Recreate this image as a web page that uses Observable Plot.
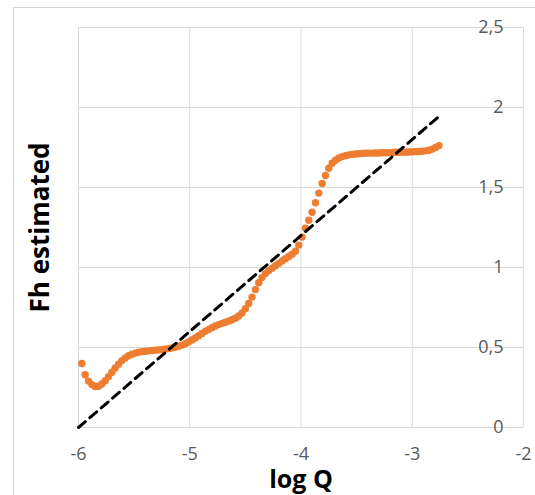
<!DOCTYPE html>
<html><head><meta charset="utf-8">
<script src="https://cdn.jsdelivr.net/npm/d3@7"></script>
<script src="https://cdn.jsdelivr.net/npm/@observablehq/plot@0.6"></script>
<style>
html,body{margin:0;padding:0;background:#fff;}
#wrap{position:relative;width:535px;height:495px;overflow:hidden;}
#border{position:absolute;left:13px;top:7px;width:700px;height:700px;border-left:1px solid #d4d4d4;border-top:1px solid #d4d4d4;}
#chart{position:absolute;left:0;top:0;}
</style></head><body>
<div id="wrap"><div id="border"></div><div id="chart"></div></div>
<script>
const logQ = [-5.97,-5.94,-5.91,-5.88,-5.85,-5.82,-5.79,-5.76,-5.73,-5.70,
  -5.67,-5.64,-5.61,-5.58,-5.55,-5.52,-5.49,-5.46,-5.43,-5.40,
  -5.37,-5.34,-5.31,-5.28,-5.25,-5.22,-5.19,-5.16,-5.13,-5.10,
  -5.07,-5.04,-5.01,-4.98,-4.95,-4.92,-4.89,-4.86,-4.83,-4.80,
  -4.77,-4.74,-4.71,-4.68,-4.65,-4.62,-4.59,-4.56,-4.53,-4.50,
  -4.47,-4.44,-4.41,-4.38,-4.35,-4.32,-4.29,-4.26,-4.23,-4.20,
  -4.17,-4.14,-4.11,-4.08,-4.05,-4.02,-3.99,-3.96,-3.93,-3.90,
  -3.87,-3.84,-3.81,-3.78,-3.75,-3.72,-3.69,-3.66,-3.63,-3.60,
  -3.57,-3.54,-3.51,-3.48,-3.45,-3.42,-3.39,-3.36,-3.33,-3.30,
  -3.27,-3.24,-3.21,-3.18,-3.15,-3.12,-3.09,-3.06,-3.03,-3.00,
  -2.97,-2.94,-2.91,-2.88,-2.85,-2.82,-2.79,-2.76];
const fhEstimated = [0.40,0.33,0.29,0.268,0.256,0.258,0.272,0.292,0.318,0.345,
  0.372,0.396,0.418,0.435,0.448,0.458,0.465,0.470,0.474,0.477,
  0.479,0.481,0.483,0.485,0.487,0.490,0.493,0.497,0.502,0.508,
  0.515,0.524,0.535,0.547,0.560,0.574,0.588,0.601,0.613,0.624,
  0.634,0.643,0.651,0.658,0.665,0.673,0.683,0.697,0.716,0.742,
  0.775,0.815,0.862,0.905,0.937,0.962,0.980,0.996,1.011,1.026,
  1.041,1.055,1.069,1.083,1.102,1.140,1.190,1.245,1.295,1.345,
  1.405,1.465,1.525,1.575,1.620,1.652,1.670,1.684,1.693,1.699,
  1.704,1.707,1.709,1.711,1.713,1.714,1.715,1.715,1.716,1.716,
  1.717,1.717,1.718,1.719,1.720,1.720,1.721,1.721,1.722,1.723,
  1.724,1.725,1.727,1.729,1.733,1.740,1.750,1.762];
const refLogQ = [-6, -2.76];
const refFh = [0, 1.944];
const xTicks = [-6, -5, -4, -3, -2];
const yTicks = [0, 0.5, 1, 1.5, 2, 2.5];
const xTitle = "log Q";
const yTitle = "Fh estimated";

const points = logQ.map((x, i) => ({x, y: fhEstimated[i]}));
const ref = refLogQ.map((x, i) => ({x, y: refFh[i]}));
const fmt = d => String(d).replace(".", ",");

const chart = Plot.plot({
  width: 535,
  height: 495,
  marginLeft: 78,
  marginRight: 12,
  marginTop: 27,
  marginBottom: 68,
  style: {fontFamily: "'Open Sans', sans-serif", fontSize: "18px", color: "#595959", background: "transparent"},
  x: {domain: [-6, -2], ticks: xTicks},
  y: {domain: [0, 2.5], ticks: yTicks},
  marks: [
    Plot.gridX(xTicks, {stroke: "#d9d9d9", strokeOpacity: 1, strokeWidth: 1}),
    Plot.gridY(yTicks, {stroke: "#d9d9d9", strokeOpacity: 1, strokeWidth: 1}),
    Plot.axisX(xTicks, {tickSize: 0, tickPadding: 20, tickFormat: d => String(d), label: null, fill: "#595959", fontSize: 18}),
    Plot.axisY(yTicks, {anchor: "right", tickSize: 0, tickPadding: 0, dx: -20, textAnchor: "end", tickFormat: fmt, label: null, fill: "#595959", fontSize: 18}),
    Plot.dot(points, {x: "x", y: "y", r: 3.7, fill: "#ED7D31", stroke: "none"}),
    Plot.line(ref, {x: "x", y: "y", stroke: "#000", strokeWidth: 3, strokeDasharray: "9,6"}),
    Plot.text([xTitle], {frameAnchor: "bottom", textAnchor: "middle", lineAnchor: "middle", dy: 52, fontSize: 25, fontWeight: "bold", fill: "#000"}),
    Plot.text([yTitle], {frameAnchor: "left", textAnchor: "middle", lineAnchor: "middle", dx: -38, rotate: -90, fontSize: 26, fontWeight: "bold", fill: "#000"})
  ]
});
document.getElementById("chart").appendChild(chart);
</script>
</body></html>
